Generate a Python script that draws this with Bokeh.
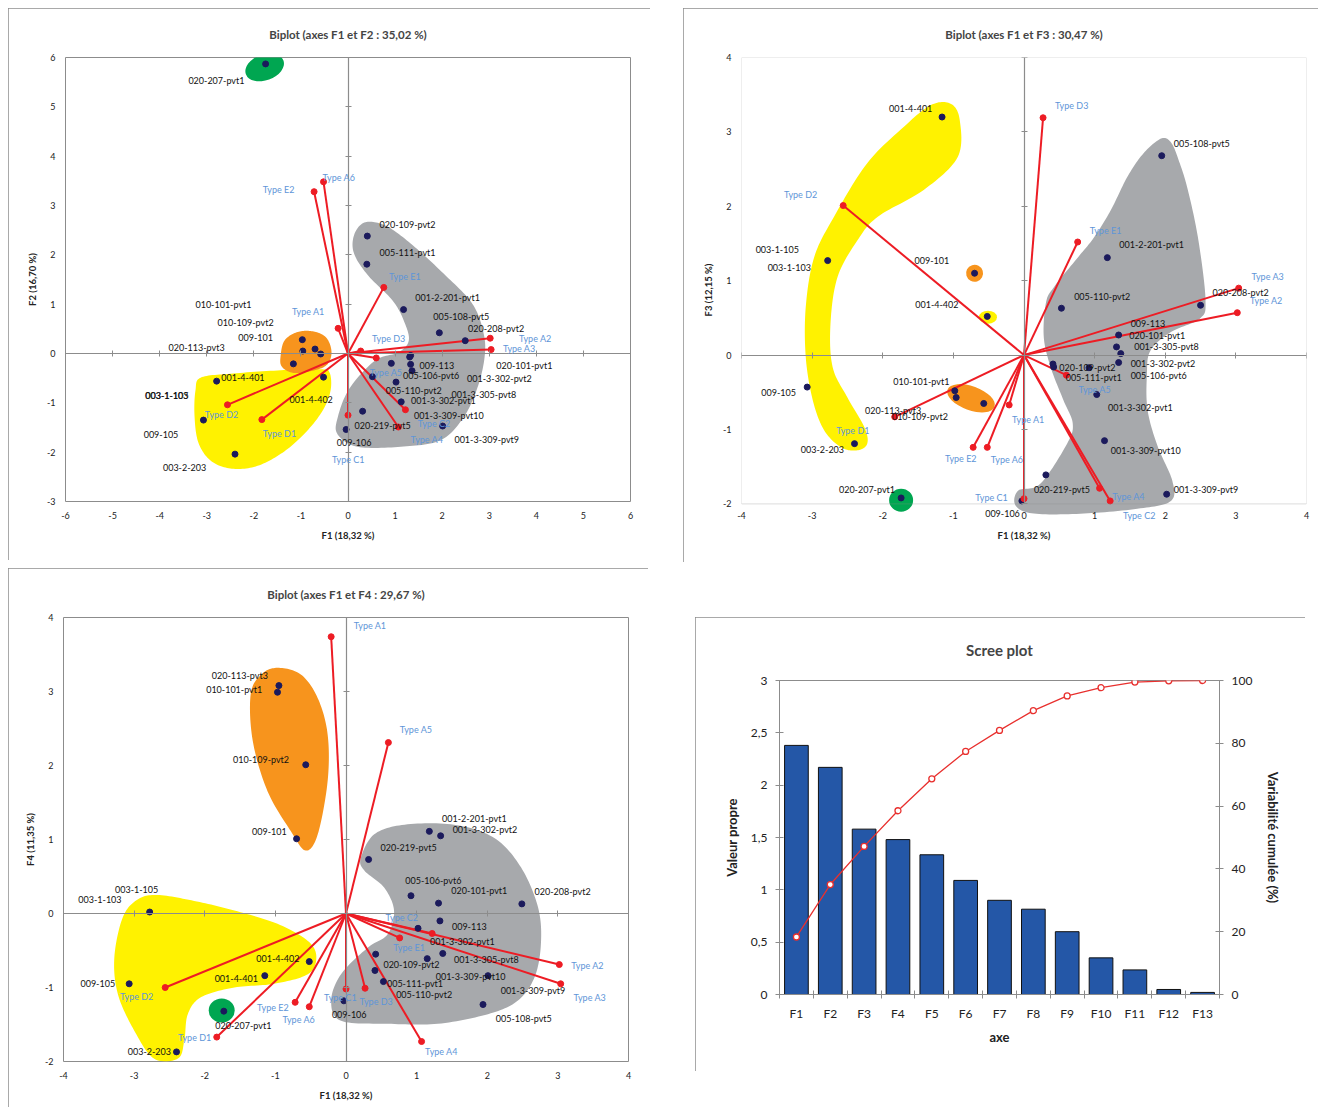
import numpy as np
from bokeh.plotting import figure
from bokeh.models import (Range1d, LinearAxis, FixedTicker, ColumnDataSource, LabelSet,
                          BoxAnnotation)
from bokeh.layouts import row, column, Spacer
from bokeh.embed import file_html
from bokeh.resources import INLINE
from bokeh.core.properties import value

FONT = "Lato"
AX = "#8c8c8c"
YELLOW, ORANGE, GRAY, GREEN = "#FFF200", "#F7941D", "#A7A9AC", "#00A651"
NAVY, RED, VBLUE = "#1B1A5C", "#ED1C24", "#5E95D8"

# ---------------- variables (vectors) ----------------
VAR_NAMES = ["Type A1", "Type A2", "Type A3", "Type A4", "Type A5", "Type A6", "Type C1",
             "Type C2", "Type D1", "Type D2", "Type D3", "Type E1", "Type E2"]
VAR_F1 = [-0.21, 3.02, 3.04, 1.07, 0.60, -0.52, 0.00, 1.22, -1.83, -2.56, 0.27, 0.76, -0.72]
VAR_F2 = [0.51, 0.31, 0.08, -1.49, -0.09, 3.48, -1.25, -1.14, -1.34, -1.04, 0.05, 1.34, 3.28]
VAR_F3 = [-0.67, 0.57, 0.90, -1.79, -0.27, -1.24, -1.93, -1.96, -0.83, 2.01, 3.19, 1.52, -1.24]
VAR_F4 = [3.74, -0.69, -0.95, -1.73, 2.31, -1.26, -1.02, -0.27, -1.67, -1.00, -1.01, -0.33, -1.20]

# variable label anchors per biplot
VAR_LBL1_X = [-1.19, 3.63, 3.29, 1.33, 0.46, -0.54, -0.34, 1.48, -1.81, -3.04, 0.51, 0.87, -1.81]
VAR_LBL1_Y = [0.86, 0.31, 0.10, -1.74, -0.39, 3.57, -2.14, -1.41, -1.62, -1.24, 0.30, 1.56, 3.33]
VAR_LBL2_X = [-0.17, 3.20, 3.22, 1.25, 0.77, -0.47, -0.69, 1.40, -2.66, -3.40, 0.44, 0.93, -1.12]
VAR_LBL2_Y = [-0.87, 0.74, 1.05, -1.90, -0.46, -1.40, -1.91, -2.16, -1.02, 2.16, 3.35, 1.68, -1.39]
VAR_LBL3_X = [0.11, 3.19, 3.22, 1.12, 0.76, -0.90, -0.31, 0.56, -2.38, -3.20, 0.19, 0.67, -1.26]
VAR_LBL3_Y = [3.89, -0.70, -1.13, -1.86, 2.48, -1.43, -1.13, -0.06, -1.68, -1.12, -1.19, -0.46, -1.27]

# ---------------- observations ----------------
OBS_NAMES = ["001-2-201-pvt1", "001-3-302-pvt1", "001-3-302-pvt2", "001-3-305-pvt8",
             "001-3-309-pvt10", "001-3-309-pvt9", "001-4-401", "001-4-402", "003-1-105",
             "003-1-103", "003-2-203", "005-106-pvt6", "005-108-pvt5", "005-110-pvt2",
             "005-111-pvt1", "009-101", "009-105", "009-106", "009-113", "010-101-pvt1",
             "010-109-pvt2", "020-101-pvt1", "020-109-pvt2", "020-113-pvt3", "020-207-pvt1",
             "020-208-pvt2", "020-219-pvt5"]

OBS_LBL1_X = [1.43, 1.34, 2.53, 2.20, 1.40, 2.26, -2.69, -1.24, -4.30, -4.31, -3.93, 1.17, 1.81,
              0.80, 0.67, -2.33, -4.34, -0.24, 1.52, -3.24, -2.77, 3.15, 0.67, -3.81, -3.39, 2.55, 0.14]
OBS_LBL1_Y = [1.14, -0.95, -0.50, -0.83, -1.25, -1.75, -0.48, -0.94, -0.85, -0.85, -2.32, -0.44, 0.74,
              -0.74, 2.04, 0.33, -1.64, -1.80, -0.24, 0.99, 0.63, -0.25, 2.62, 0.13, 5.53, 0.51, -1.46]
OBS_LBL2_X = [1.35, 1.19, 1.51, 1.56, 1.23, 2.12, -1.91, -1.54, -3.80, -3.63, -3.16, 1.51, 2.12,
              0.71, 0.59, -1.55, -3.72, -0.55, 1.51, -1.85, -1.87, 1.49, 0.50, -2.25, -2.62, 2.67, 0.14]
OBS_LBL2_Y = [1.48, -0.71, -0.11, 0.11, -1.28, -1.80, 3.31, 0.68, 1.42, 1.18, -1.27, -0.27, 2.85,
              0.79, -0.30, 1.27, -0.50, -2.13, 0.43, -0.35, -0.83, 0.27, -0.16, -0.75, -1.81, 0.84, -1.80]
OBS_LBL3_X = [1.36, 1.19, 1.51, 1.53, 1.27, 2.19, -1.86, -1.27, -3.27, -3.79, -3.09, 0.84, 2.12,
              0.71, 0.58, -1.33, -3.76, -0.20, 1.50, -1.98, -1.60, 1.49, 0.53, -1.90, -1.85, 2.67, 0.49]
OBS_LBL3_Y = [1.29, -0.38, 1.13, -0.62, -0.85, -1.04, -0.88, -0.61, 0.32, 0.19, -1.87, 0.44, -1.42,
              -1.10, -0.95, 1.11, -0.95, -1.37, -0.17, 3.03, 2.08, 0.31, -0.69, 3.21, -1.52, 0.30, 0.89]

# observation coordinates as plotted in each biplot
P1_X = [-1.75, -0.97, -0.96, -0.70, -0.58, -1.16, -2.79, -0.52, -3.07, -2.40, 0.41, 0.40, 1.18,
        1.94, 2.49, 1.33, 1.31, 1.33, 1.36, 0.92, 0.52, 1.02, 1.13, 0.31, -0.04, 2.01]
P1_Y = [5.87, 0.28, 0.05, 0.09, -0.01, -0.21, -0.56, -0.48, -1.35, -2.04, 2.38, 1.81, 0.89,
        0.42, 0.26, -0.04, -0.07, -0.22, -0.35, -0.20, -0.47, -0.58, -0.98, -1.17, -1.54, -1.47]
P2_X = [-1.16, -2.78, -0.70, -0.52, -3.07, -0.98, -0.96, -0.57, -2.40, -1.74, -0.03, 1.95, 1.18,
        0.53, 2.50, 1.34, 1.31, 1.37, 1.34, 0.41, 0.42, 0.92, 1.03, 1.14, 0.31, 2.02]
P2_Y = [3.20, 1.27, 1.10, 0.52, -0.43, -0.48, -0.57, -0.65, -1.19, -1.92, -1.96, 2.68, 1.31,
        0.63, 0.67, 0.27, 0.11, 0.02, -0.10, -0.12, -0.16, -0.17, -0.53, -1.15, -1.61, -1.87]
P3_X = [-0.95, -0.97, -0.57, -0.70, -2.78, -0.52, -1.15, -3.07, -1.73, -2.40, -0.03, 1.18, 1.34,
        0.32, 0.92, 1.31, 2.49, 1.33, 1.02, 1.37, 0.42, 1.15, 0.41, 0.53, 2.01, 1.94]
P3_Y = [3.08, 2.99, 2.01, 1.01, 0.02, -0.65, -0.84, -0.95, -1.32, -1.87, -1.18, 1.11, 1.05,
        0.73, 0.24, 0.14, 0.13, -0.10, -0.20, -0.54, -0.55, -0.61, -0.77, -0.92, -0.84, -1.23]

# ---------------- group outlines (hand-drawn zones) ----------------
P1_GRAY_X = [0.37, 0.80, 1.33, 2.03, 2.64, 2.88, 2.90, 2.75, 2.45, 1.96, 1.12, 0.20, -0.22, -0.22,
             0.03, 0.58, 1.07, 1.29, 1.20, 0.95, 0.41, 0.12, 0.14]
P1_GRAY_Y = [2.66, 2.59, 2.23, 1.62, 1.01, 0.41, -0.08, -0.69, -1.30, -1.76, -1.89, -1.89, -1.64,
             -1.30, -0.71, -0.14, 0.02, 0.26, 0.63, 1.07, 1.60, 2.05, 2.43]
P1_YEL_X = [-3.13, -2.50, -1.43, -0.58, -0.39, -0.37, -0.54, -0.90, -1.39, -1.96, -2.50, -2.92,
            -3.18, -3.26, -3.24]
P1_YEL_Y = [-0.49, -0.41, -0.34, -0.32, -0.39, -0.75, -1.16, -1.60, -2.01, -2.29, -2.33, -2.17,
            -1.80, -1.26, -0.75]
P1_ORA_X = [-1.43, -1.35, -1.09, -0.75, -0.46, -0.35, -0.46, -0.80, -1.18, -1.41]
P1_ORA_Y = [-0.04, 0.26, 0.43, 0.45, 0.32, 0.02, -0.24, -0.36, -0.39, -0.26]

P2_YEL_X = [-1.04, -0.91, -0.94, -1.42, -2.07, -2.36, -2.64, -2.74, -2.71, -2.50, -2.26, -2.22,
            -2.36, -2.59, -2.83, -2.99, -3.09, -3.09, -2.97, -2.69, -2.22, -1.70, -1.32]
P2_YEL_Y = [3.38, 3.16, 2.66, 2.22, 1.86, 1.54, 1.05, 0.42, -0.16, -0.57, -0.97, -1.19, -1.28,
            -1.24, -1.01, -0.61, -0.03, 0.65, 1.32, 1.86, 2.58, 3.07, 3.36]
P2_GRAY_X = [1.94, 2.08, 2.19, 2.32, 2.47, 2.57, 2.49, 2.08, 1.79, 1.74, 1.75, 1.89, 2.10, 2.08,
             1.65, 0.85, 0.14, -0.12, -0.08, 0.23, 0.61, 0.69, 0.56, 0.38, 0.28, 0.31, 0.42, 0.76,
             0.99, 1.23, 1.46, 1.69]
P2_GRAY_Y = [2.91, 2.86, 2.62, 2.22, 1.54, 0.74, 0.49, 0.31, 0.06, -0.27, -0.74, -1.22, -1.69,
             -1.96, -2.06, -2.13, -2.13, -2.02, -1.82, -1.73, -1.19, -0.92, -0.61, -0.17, 0.24,
             0.70, 0.91, 1.31, 1.58, 1.95, 2.39, 2.71]

P3_ORA_X = [-0.97, -1.20, -1.35, -1.32, -1.11, -0.78, -0.57, -0.40, -0.26, -0.26, -0.40, -0.64]
P3_ORA_Y = [3.32, 3.23, 2.96, 2.33, 1.65, 1.11, 0.85, 1.07, 1.79, 2.42, 2.91, 3.23]
P3_YEL_X = [-2.67, -2.15, -1.58, -0.97, -0.54, -0.42, -0.54, -1.02, -1.58, -2.05, -2.24, -2.29,
            -2.38, -2.72, -3.00, -3.23, -3.28, -3.16, -2.95]
P3_YEL_Y = [0.25, 0.17, 0.04, -0.14, -0.37, -0.59, -0.82, -0.95, -1.00, -1.13, -1.36, -1.72,
            -1.96, -1.96, -1.58, -1.09, -0.59, -0.05, 0.19]
P3_GRAY_X = [0.21, 0.40, 0.83, 1.53, 2.10, 2.48, 2.72, 2.76, 2.67, 2.43, 2.01, 1.30, 0.59, -0.07,
             -0.21, -0.07, 0.31, 0.59, 0.68, 0.54, 0.26]
P3_GRAY_Y = [0.75, 1.07, 1.20, 1.20, 1.02, 0.62, 0.08, -0.41, -0.86, -1.18, -1.36, -1.49, -1.49,
             -1.45, -1.18, -0.82, -0.46, -0.28, 0.04, 0.35, 0.58]

# small round zones: centre (data), screen size
P1_BLOBS = dict(x=[-1.77], y=[5.80], w=[40], h=[26], a=[0.35], c=[GREEN])
P2_BLOBS = dict(x=[-0.70, -0.51, -0.75, -1.74], y=[1.10, 0.51, -0.58, -1.95],
                w=[17, 18, 50, 24], h=[17, 13, 24, 23], a=[0.3, 0.0, -0.35, 0.0],
                c=[ORANGE, YELLOW, ORANGE, GREEN])
P3_BLOBS = dict(x=[-1.76], y=[-1.31], w=[26], h=[24], a=[0.0], c=[GREEN])

# ---------------- scree plot ----------------
AXES = ["F1", "F2", "F3", "F4", "F5", "F6", "F7", "F8", "F9", "F10", "F11", "F12", "F13"]
EIGEN = [2.38, 2.17, 1.58, 1.48, 1.335, 1.09, 0.90, 0.815, 0.60, 0.35, 0.235, 0.048, 0.02]
CUMUL = [18.32, 35.02, 47.17, 58.52, 68.7, 77.4, 84.1, 90.4, 95.1, 97.7, 99.5, 99.9, 100.0]
LEFT_TICKS = [0, 0.5, 1, 1.5, 2, 2.5, 3]
LEFT_LABELS = ["0", "0,5", "1", "1,5", "2", "2,5", "3"]
RIGHT_TICKS = [0, 20, 40, 60, 80, 100]


def smooth(xs, ys, n=14):
    P = np.column_stack([xs, ys]).astype(float)
    m = len(P)
    out = []
    for i in range(m):
        p0, p1, p2, p3 = P[(i - 1) % m], P[i], P[(i + 1) % m], P[(i + 2) % m]
        for t in np.linspace(0, 1, n, endpoint=False):
            out.append(0.5 * (2 * p1 + (-p0 + p2) * t + (2 * p0 - 5 * p1 + 4 * p2 - p3) * t * t
                              + (-p0 + 3 * p1 - 3 * p2 + p3) * t ** 3))
    out = np.array(out)
    return list(out[:, 0]), list(out[:, 1])


def biplot(title, xr, yr, xlab, ylab, w, h, borders, ypad=0.0, pad_px=0):
    """ypad: extra visible room below the plot area (labels / zones overflow there)."""
    p = figure(width=w, height=h, x_range=Range1d(*xr), y_range=Range1d(yr[0] - ypad, yr[1]),
               output_backend="svg", toolbar_location=None,
               min_border_left=borders[0], min_border_right=borders[1],
               min_border_top=borders[2], min_border_bottom=borders[3],
               styles={"outline": "1px solid #8c8c8c", "outline-offset": "-1px"})
    p.title.text = title
    p.title.align = "center"
    p.title.text_font = FONT
    p.title.text_font_style = "bold"
    p.title.text_font_size = "11.5px"
    p.title.standoff = 33
    p.grid.visible = False
    if ypad:
        p.outline_line_color = None
        p.add_layout(BoxAnnotation(left=xr[0], right=xr[1], bottom=yr[0], top=yr[1],
                                   fill_alpha=0, line_color=AX, line_width=1))
    else:
        p.outline_line_color = AX
    xt = list(range(xr[0], xr[1] + 1))
    yt = list(range(yr[0], yr[1] + 1))
    for ax, ticks, lab in ((p.xaxis[0], xt, xlab), (p.yaxis[0], yt, ylab)):
        ax.ticker = FixedTicker(ticks=ticks)
        ax.major_label_overrides = {t: str(t) for t in ticks}
        ax.major_tick_line_color = None
        ax.major_tick_out = 0
        ax.major_tick_in = 0
        ax.minor_tick_line_color = None
        ax.axis_line_color = None
        ax.major_label_text_font = FONT
        ax.major_label_text_font_size = "9px"
        ax.major_label_text_color = "#222222"
        ax.major_label_standoff = 10
        ax.axis_label = lab
        ax.axis_label_text_font = FONT
        ax.axis_label_text_font_style = "bold"
        ax.axis_label_text_font_size = "9.5px"
        ax.axis_label_text_color = "#222222"
    p.xaxis[0].major_label_standoff = 10 - pad_px
    p.xaxis[0].axis_label_standoff = 8
    p.yaxis[0].axis_label_standoff = 6
    # axes crossing at zero: only (minor) tick marks, no labels
    for ticks, side, bnd in ((xt, "below", (xr[0], xr[1])), (yt, "left", (yr[0], yr[1]))):
        cax = LinearAxis(fixed_location=0, ticker=FixedTicker(ticks=[], minor_ticks=ticks),
                         major_tick_line_color=None, minor_tick_in=3, minor_tick_out=3,
                         minor_tick_line_color=AX, axis_line_color=AX, axis_line_width=1.2,
                         bounds=bnd)
        p.add_layout(cax, side)
    return p


def draw_zones(p, polys, blobs):
    for xs, ys, col in polys:
        sx, sy = smooth(xs, ys)
        p.patch(sx, sy, fill_color=col, line_color=None)
    src = ColumnDataSource(blobs)
    p.ellipse(x="x", y="y", width="w", height="h", angle="a", source=src,
              width_units="screen", height_units="screen", fill_color="c", line_color=None)


def draw_biplot_content(p, px, py, vx, vy, vlx, vly, olx, oly):
    p.segment(x0=[0] * len(vx), y0=[0] * len(vy), x1=vx, y1=vy, line_color=RED, line_width=2)
    p.scatter(px, py, size=6, fill_color=NAVY, line_color=NAVY)
    p.scatter(vx, vy, size=6, fill_color=RED, line_color=RED)
    osrc = ColumnDataSource(dict(x=olx, y=oly, t=OBS_NAMES))
    p.add_layout(LabelSet(x="x", y="y", text="t", source=osrc, text_align="left",
                          text_baseline="middle", text_font=value(FONT), text_font_size="9px",
                          text_color="#111111"))
    vsrc = ColumnDataSource(dict(x=vlx, y=vly, t=VAR_NAMES))
    p.add_layout(LabelSet(x="x", y="y", text="t", source=vsrc, text_align="left",
                          text_baseline="middle", text_font=value(FONT), text_font_size="9px",
                          text_color=VBLUE))


# ---- biplot F1/F2
p1 = biplot("Biplot (axes F1 et F2 : 35,02 %)", (-6, 6), (-3, 6), "F1 (18,32 %)", "F2 (16,70 %)",
            642, 552, (57, 20, 49, 59))
draw_zones(p1, [(P1_GRAY_X, P1_GRAY_Y, GRAY), (P1_YEL_X, P1_YEL_Y, YELLOW),
                (P1_ORA_X, P1_ORA_Y, ORANGE)], P1_BLOBS)
draw_biplot_content(p1, P1_X, P1_Y, VAR_F1, VAR_F2, VAR_LBL1_X, VAR_LBL1_Y, OBS_LBL1_X, OBS_LBL1_Y)

# ---- biplot F1/F3 (labels and zones overflow a little below the plot area)
p2 = biplot("Biplot (axes F1 et F3 : 30,47 %)", (-4, 4), (-2, 4), "F1 (18,32 %)", "F3 (12,15 %)",
            635, 554, (58, 12, 49, 40), ypad=0.25, pad_px=21)
draw_zones(p2, [(P2_YEL_X, P2_YEL_Y, YELLOW), (P2_GRAY_X, P2_GRAY_Y, GRAY)], P2_BLOBS)
draw_biplot_content(p2, P2_X, P2_Y, VAR_F1, VAR_F3, VAR_LBL2_X, VAR_LBL2_Y, OBS_LBL2_X, OBS_LBL2_Y)

# ---- biplot F1/F4
p3 = biplot("Biplot (axes F1 et F4 : 29,67 %)", (-4, 4), (-2, 4), "F1 (18,32 %)", "F4 (11,35 %)",
            640, 539, (55, 20, 49, 46))
draw_zones(p3, [(P3_ORA_X, P3_ORA_Y, ORANGE), (P3_YEL_X, P3_YEL_Y, YELLOW),
                (P3_GRAY_X, P3_GRAY_Y, GRAY)], P3_BLOBS)
draw_biplot_content(p3, P3_X, P3_Y, VAR_F1, VAR_F4, VAR_LBL3_X, VAR_LBL3_Y, OBS_LBL3_X, OBS_LBL3_Y)

# ---- scree plot (categories placed at slot centres of a numeric axis)
cat_pos = [i + 0.5 for i in range(len(AXES))]
cat_bounds = list(range(len(AXES) + 1))
p4 = figure(width=610, height=454, x_range=Range1d(0, len(AXES)), y_range=Range1d(0, 3),
            x_axis_location=None, y_axis_location=None, output_backend="svg",
            toolbar_location=None, min_border_left=84, min_border_right=86,
            min_border_top=62, min_border_bottom=77,
            styles={"outline": "1px solid #8c8c8c", "outline-offset": "-1px"})
p4.title.text = "Scree plot"
p4.title.align = "center"
p4.title.text_font = FONT
p4.title.text_font_style = "bold"
p4.title.text_font_size = "15px"
p4.title.standoff = 43
p4.grid.visible = False
p4.outline_line_color = AX
p4.extra_y_ranges = {"cum": Range1d(0, 100)}

cat_ax = LinearAxis(axis_label="axe", ticker=FixedTicker(ticks=cat_pos, minor_ticks=cat_bounds),
                    major_label_overrides=dict(zip(cat_pos, AXES)),
                    major_tick_line_color=None, major_tick_in=0, major_tick_out=0,
                    minor_tick_line_color=AX, minor_tick_in=4, minor_tick_out=4,
                    axis_line_color=AX,
                    major_label_text_font=FONT, major_label_text_font_size="12px",
                    major_label_text_color="#222222", major_label_standoff=7,
                    axis_label_text_font=FONT, axis_label_text_font_style="bold",
                    axis_label_text_font_size="13px", axis_label_standoff=5,
                    axis_label_text_color="#222222")
p4.add_layout(cat_ax, "below")
left_ax = LinearAxis(axis_label="Valeur propre", ticker=FixedTicker(ticks=LEFT_TICKS),
                     major_label_overrides=dict(zip(LEFT_TICKS, LEFT_LABELS)),
                     major_tick_in=4, major_tick_out=4, minor_tick_line_color=None,
                     axis_line_color=AX, major_tick_line_color=AX,
                     major_label_text_font=FONT, major_label_text_font_size="12px",
                     major_label_text_color="#222222", major_label_standoff=8,
                     axis_label_text_font=FONT, axis_label_text_font_style="bold",
                     axis_label_text_font_size="13px", axis_label_standoff=8,
                     axis_label_text_color="#222222")
p4.add_layout(left_ax, "left")
right_ax = LinearAxis(y_range_name="cum", axis_label="Variabilité cumulée (%)",
                      ticker=FixedTicker(ticks=RIGHT_TICKS),
                      major_tick_in=4, major_tick_out=4, minor_tick_line_color=None,
                      axis_line_color=AX, major_tick_line_color=AX,
                      major_label_text_font=FONT, major_label_text_font_size="12px",
                      major_label_text_color="#222222", major_label_standoff=8,
                      axis_label_text_font=FONT, axis_label_text_font_style="bold",
                      axis_label_text_font_size="13px", axis_label_standoff=10,
                      axis_label_text_color="#222222")
p4.add_layout(right_ax, "right")

p4.vbar(x=cat_pos, top=EIGEN, width=0.7, fill_color="#2457A7", line_color="#111111", line_width=1)
p4.line(cat_pos, CUMUL, y_range_name="cum", line_color="#E8302E", line_width=1.3)
p4.scatter(cat_pos, CUMUL, y_range_name="cum", size=6, fill_color="white", line_color="#E8302E",
           line_width=1.3)

grid = column(row(p1, Spacer(width=33), column(p2)),
              Spacer(height=6),
              row(p3, Spacer(width=47), column(Spacer(height=49), p4)))
layout = column(Spacer(height=8), row(Spacer(width=8), grid))

with open("out.html", "w") as f:
    f.write(file_html(layout, INLINE))
